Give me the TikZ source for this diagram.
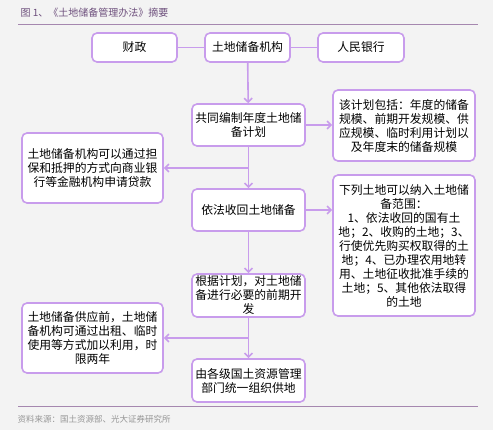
\documentclass[tikz,border=0pt]{standalone}
\usepackage{fontspec}
\setmainfont{Noto Sans CJK SC}
\usepackage{tikz}
\usetikzlibrary{arrows.meta, positioning}
\usepackage{xcolor}
\definecolor{boxline}{RGB}{200,156,236}
\definecolor{titlecol}{RGB}{110,80,125}
\definecolor{rulecol}{RGB}{165,135,175}
\definecolor{bgcol}{RGB}{243,243,243}
\definecolor{srccol}{RGB}{150,150,150}

\begin{document}
\begin{tikzpicture}[x=1pt, y=-1pt,
  box/.style={draw=boxline, line width=1.6pt, fill=white, rounded corners=5pt,
    align=center, inner sep=1pt, font=\fontsize{11.8}{14}\selectfont},
  link/.style={color=boxline, line width=1.6pt},
  arr/.style={link, -{Straight Barb[length=4pt, width=8pt]}}]
  \fill[bgcol] (0,0) rectangle (493,430);
  \useasboundingbox (0,0) rectangle (493,430);

  % title and rules
  \node[anchor=west, text=titlecol, font=\fontsize{10}{12}\selectfont] (title) at (17,13) {图 1、《土地储备管理办法》摘要};
  \draw[rulecol, line width=0.9pt] (18,24) -- (478,24);
  \draw[rulecol, line width=0.9pt] (18,406) -- (478,406);
  \node[anchor=west, text=srccol, font=\fontsize{8.5}{10}\selectfont] (source) at (14,419) {资料来源：国土资源部、光大证券研究所};

  % top row
  \node[box, minimum width=85pt, minimum height=29pt] (caizheng) at (134.5,47.5) {财政};
  \node[box, minimum width=85pt, minimum height=29pt] (jigou) at (247.5,47.5) {土地储备机构};
  \node[box, minimum width=86pt, minimum height=29pt] (yinhang) at (361,47.5) {人民银行};
  \draw[link] (caizheng) -- (jigou);
  \draw[link] (jigou) -- (yinhang);

  % main column
  \node[box, minimum width=113pt, minimum height=42pt] (jihua) at (248.5,125) {共同编制年度土地储\\备计划};
  \node[box, minimum width=113pt, minimum height=42pt] (shouhui) at (248.5,210) {依法收回土地储备};
  \node[box, minimum width=113pt, minimum height=43pt] (kaifa) at (248.5,295.5) {根据计划，对土地储\\备进行必要的前期开\\发};
  \node[box, minimum width=113pt, minimum height=43pt] (gongdi) at (248.5,380.5) {由各级国土资源管理\\部门统一组织供地};

  % side boxes
  \node[box, minimum width=142pt, minimum height=71pt] (baokuo) at (404,125.5) {该计划包括：年度的储备\\规模、前期开发规模、供\\应规模、临时利用计划以\\及年度末的储备规模};
  \node[box, minimum width=142pt, minimum height=141pt] (fanwei) at (404,245.5) {下列土地可以纳入土地储\\备范围：\\1、依法收回的国有土\\地；2、收购的土地；3、\\行使优先购买权取得的土\\地；4、已办理农用地转\\用、土地征收批准手续的\\土地；5、其他依法取得\\的土地};
  \node[box, minimum width=141pt, minimum height=70pt] (daikuan) at (92.5,168) {土地储备机构可以通过担\\保和抵押的方式向商业银\\行等金融机构申请贷款};
  \node[box, minimum width=141pt, minimum height=70pt] (liyong) at (92.5,338) {土地储备供应前，土地储\\备机构可通过出租、临时\\使用等方式加以利用，时\\限两年};

  % arrows
  \draw[arr] (jigou) -- (jihua);
  \draw[arr] (jihua) -- (shouhui);
  \draw[arr] (shouhui) -- (kaifa);
  \draw[arr] (kaifa) -- (gongdi);
  \draw[arr] (jihua) -- (baokuo.west |- jihua);
  \draw[arr] (shouhui) -- (fanwei.west |- shouhui);
  \coordinate (split1) at (jihua.south |- daikuan.east);
  \coordinate (split2) at (kaifa.south |- liyong.east);
  \draw[arr] (split1) -- (daikuan);
  \draw[arr] (split2) -- (liyong);
\end{tikzpicture}
\end{document}
